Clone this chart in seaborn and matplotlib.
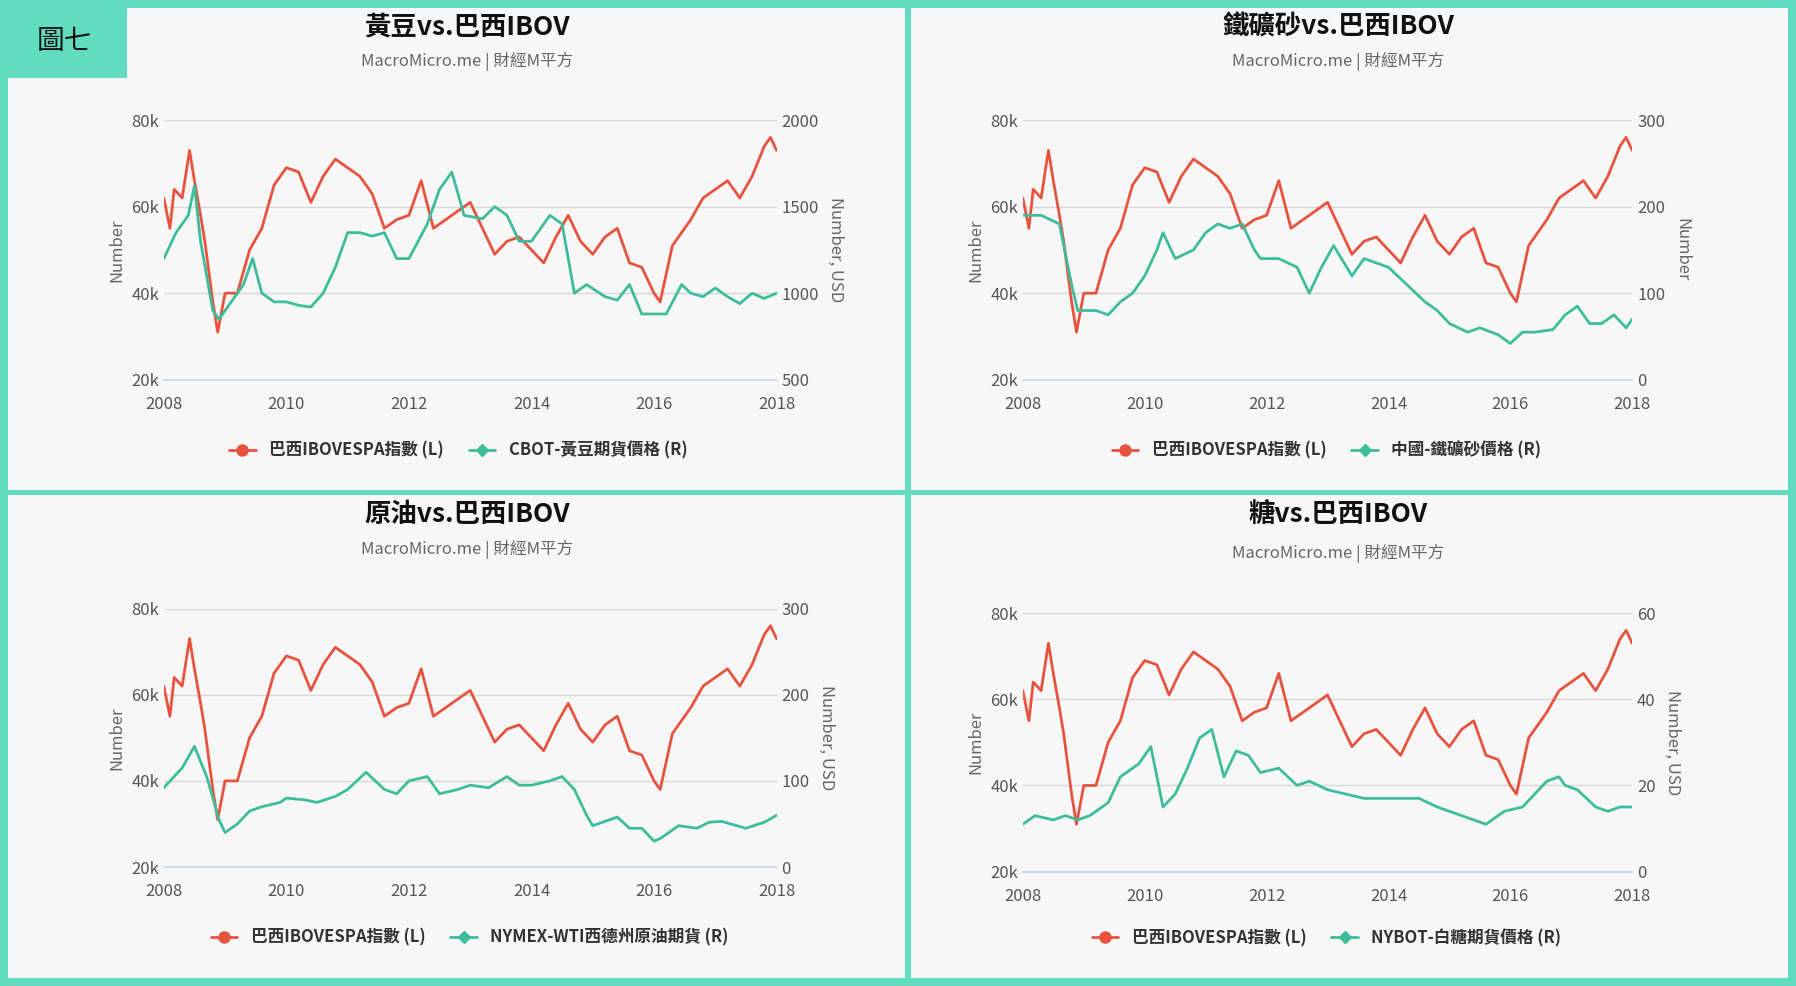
import matplotlib
matplotlib.use('Agg')
import matplotlib.pyplot as plt
import seaborn as sns
import pandas as pd
from matplotlib.lines import Line2D
from matplotlib.patches import Rectangle

sns.set_theme(style='white')
plt.rcParams['font.family'] = ['Noto Sans CJK TC', 'DejaVu Sans']

RED = '#e8533f'
TEAL = '#3dbd9b'
FRAME = '#62dcc0'

# Brazil IBOVESPA (shared by all panels), year fraction / value
ibov_t = [2008.0, 2008.1, 2008.17, 2008.3, 2008.42, 2008.5, 2008.6, 2008.67, 2008.8, 2008.88, 2009.0, 2009.2,
          2009.4, 2009.6, 2009.8, 2010.0, 2010.2, 2010.4, 2010.6, 2010.8, 2011.0, 2011.2, 2011.4, 2011.6,
          2011.8, 2012.0, 2012.2, 2012.4, 2012.6, 2012.8, 2013.0, 2013.2, 2013.4, 2013.6, 2013.8, 2014.0,
          2014.2, 2014.4, 2014.6, 2014.8, 2015.0, 2015.2, 2015.4, 2015.6, 2015.8, 2016.0, 2016.1, 2016.3,
          2016.6, 2016.8, 2017.0, 2017.2, 2017.4, 2017.6, 2017.8, 2017.9, 2018.0]
ibov_v = [62, 55, 64, 62, 73, 66, 58, 52, 38, 31, 40, 40,
          50, 55, 65, 69, 68, 61, 67, 71, 69, 67, 63, 55,
          57, 58, 66, 55, 57, 59, 61, 55, 49, 52, 53, 50,
          47, 53, 58, 52, 49, 53, 55, 47, 46, 40, 38, 51,
          57, 62, 64, 66, 62, 67, 74, 76, 73]
ibov_v = [v * 1000 for v in ibov_v]

soy_t = [2008.0, 2008.2, 2008.4, 2008.5, 2008.6, 2008.8, 2008.9, 2009.1, 2009.3, 2009.45, 2009.6, 2009.8,
         2010.0, 2010.2, 2010.4, 2010.6, 2010.8, 2011.0, 2011.2, 2011.4, 2011.6, 2011.8, 2012.0, 2012.3,
         2012.5, 2012.7, 2012.9, 2013.2, 2013.4, 2013.6, 2013.8, 2014.0, 2014.3, 2014.5, 2014.7, 2014.9,
         2015.2, 2015.4, 2015.6, 2015.8, 2016.0, 2016.2, 2016.45, 2016.6, 2016.8, 2017.0, 2017.2, 2017.4,
         2017.6, 2017.8, 2018.0]
soy_v = [1200, 1350, 1450, 1620, 1300, 900, 850, 950, 1050, 1200, 1000, 950,
         950, 930, 920, 1000, 1150, 1350, 1350, 1330, 1350, 1200, 1200, 1400,
         1600, 1700, 1450, 1430, 1500, 1450, 1300, 1300, 1450, 1400, 1000, 1050,
         980, 960, 1050, 880, 880, 880, 1050, 1000, 980, 1030, 980, 940,
         1000, 970, 1000]

iron_t = [2008.0, 2008.3, 2008.6, 2008.8, 2008.9, 2009.2, 2009.4, 2009.6, 2009.8, 2010.0, 2010.2, 2010.3,
          2010.5, 2010.8, 2011.0, 2011.2, 2011.4, 2011.6, 2011.8, 2011.9, 2012.2, 2012.5, 2012.7, 2012.9,
          2013.1, 2013.4, 2013.6, 2013.8, 2014.0, 2014.3, 2014.6, 2014.8, 2015.0, 2015.3, 2015.5, 2015.8,
          2016.0, 2016.2, 2016.4, 2016.7, 2016.9, 2017.1, 2017.3, 2017.5, 2017.7, 2017.9, 2018.0]
iron_v = [190, 190, 180, 110, 80, 80, 75, 90, 100, 120, 150, 170,
          140, 150, 170, 180, 175, 180, 150, 140, 140, 130, 100, 130,
          155, 120, 140, 135, 130, 110, 90, 80, 65, 55, 60, 52,
          42, 55, 55, 58, 75, 85, 65, 65, 75, 60, 70]

wti_t = [2008.0, 2008.3, 2008.5, 2008.7, 2008.9, 2009.0, 2009.2, 2009.4, 2009.6, 2009.9, 2010.0, 2010.3,
         2010.5, 2010.8, 2011.0, 2011.3, 2011.6, 2011.8, 2012.0, 2012.3, 2012.5, 2012.8, 2013.0, 2013.3,
         2013.6, 2013.8, 2014.0, 2014.3, 2014.5, 2014.7, 2014.9, 2015.0, 2015.4, 2015.6, 2015.8, 2016.0,
         2016.1, 2016.4, 2016.7, 2016.9, 2017.1, 2017.5, 2017.8, 2018.0]
wti_v = [92, 115, 140, 105, 55, 40, 50, 65, 70, 75, 80, 78,
         75, 82, 90, 110, 90, 85, 100, 105, 85, 90, 95, 92,
         105, 95, 95, 100, 105, 90, 60, 48, 58, 45, 45, 30,
         33, 48, 45, 52, 53, 45, 52, 60]

sugar_t = [2008.0, 2008.2, 2008.5, 2008.7, 2008.9, 2009.1, 2009.4, 2009.6, 2009.9, 2010.1, 2010.3, 2010.5,
           2010.7, 2010.9, 2011.1, 2011.3, 2011.5, 2011.7, 2011.9, 2012.2, 2012.5, 2012.7, 2013.0, 2013.3,
           2013.6, 2013.9, 2014.2, 2014.5, 2014.8, 2015.0, 2015.4, 2015.6, 2015.9, 2016.2, 2016.4, 2016.6,
           2016.8, 2016.9, 2017.1, 2017.4, 2017.6, 2017.8, 2018.0]
sugar_v = [11, 13, 12, 13, 12, 13, 16, 22, 25, 29, 15, 18,
           24, 31, 33, 22, 28, 27, 23, 24, 20, 21, 19, 18,
           17, 17, 17, 17, 15, 14, 12, 11, 14, 15, 18, 21,
           22, 20, 19, 15, 14, 15, 15]

panels = [
    ('黃豆vs.巴西IBOV', 'CBOT-黃豆期貨價格 (R)', soy_t, soy_v, (500, 2000), [500, 1000, 1500, 2000], 'Number, USD'),
    ('鐵礦砂vs.巴西IBOV', '中國-鐵礦砂價格 (R)', iron_t, iron_v, (0, 300), [0, 100, 200, 300], 'Number'),
    ('原油vs.巴西IBOV', 'NYMEX-WTI西德州原油期貨 (R)', wti_t, wti_v, (0, 300), [0, 100, 200, 300], 'Number, USD'),
    ('糖vs.巴西IBOV', 'NYBOT-白糖期貨價格 (R)', sugar_t, sugar_v, (0, 60), [0, 20, 40, 60], 'Number, USD'),
]

W, H = 1568, 862
fig = plt.figure(figsize=(17.96, 9.86), dpi=100)
fig.patch.set_facecolor(FRAME)

# panel boxes in reference pixels: (x0, y0, x1, y1)
boxes = [(7, 7, 790, 428), (795, 7, 1561, 428), (7, 433, 790, 855), (795, 433, 1561, 855)]
# plot areas (left, right, top, bottom) and title centre, legend centre, subtitle y
plots = [(143, 678, 105, 332, 408, 400, 54),
         (893, 1425, 105, 332, 1168, 1158, 54),
         (143, 678, 532, 758, 408, 410, 480),
         (893, 1425, 536, 762, 1168, 1158, 484)]

def fx(px):
    return px / W

def fy(py):
    return 1 - py / H

for (title, rlabel, t, v, rlim, rticks, rname), (x0, y0, x1, y1), (pl, pr, pt, pb, tc, lc, sy) in zip(panels, boxes, plots):
    fig.add_artist(Rectangle((fx(x0), fy(y1)), fx(x1 - x0), (y1 - y0) / H,
                             transform=fig.transFigure, facecolor='#f7f7f7', edgecolor='none', zorder=0))
    fig.text(fx(tc), fy(y0 + 17), title, ha='center', va='center', fontsize=19, fontweight='bold', color='#111111')
    fig.text(fx(tc), fy(sy), 'MacroMicro.me | 財經M平方', ha='center', va='center', fontsize=12, color='#666666')

    ax = fig.add_axes([fx(pl), fy(pb), fx(pr - pl), (pb - pt) / H])
    ax.set_facecolor('none')
    sns.lineplot(x=ibov_t, y=ibov_v, ax=ax, color=RED, lw=2)
    ax.set_xlim(2008.0, 2018.0)
    ax.set_ylim(20000, 80000)
    ax.set_yticks([20000, 40000, 60000, 80000])
    ax.set_yticklabels(['20k', '40k', '60k', '80k'])
    ax.set_xticks(range(2008, 2019, 2))
    ax.grid(axis='y', color='#d8d8d8', lw=1)
    ax.set_ylabel('Number', color='#666666', fontsize=12)
    for s in ['top', 'right', 'left']:
        ax.spines[s].set_visible(False)
    ax.spines['bottom'].set_color('#ccd6eb')
    ax.tick_params(axis='both', colors='#555555', labelsize=12, length=0)
    ax.tick_params(axis='x', length=8, color='#ccd6eb', direction='out')

    ax2 = ax.twinx()
    sns.lineplot(x=t, y=v, ax=ax2, color=TEAL, lw=2)
    ax2.set_ylim(*rlim)
    ax2.set_yticks(rticks)
    ax2.set_ylabel(rname, color='#666666', fontsize=12, rotation=270, labelpad=18)
    for s in ax2.spines.values():
        s.set_visible(False)
    ax2.tick_params(axis='y', colors='#555555', labelsize=12, length=0)

    handles = [Line2D([], [], color=RED, lw=2, marker='o', markersize=8),
               Line2D([], [], color=TEAL, lw=2, marker='D', markersize=6)]
    fig.legend(handles, ['巴西IBOVESPA指數 (L)', rlabel], loc='center',
               bbox_to_anchor=(fx(lc), fy(y0 + 387)), ncol=2, frameon=False,
               prop={'weight': 'bold', 'size': 12}, handlelength=1.6, columnspacing=1.5,
               labelcolor='#333333')

# figure label box
fig.add_artist(Rectangle((0, fy(68)), fx(111), 68 / H, transform=fig.transFigure,
                         facecolor=FRAME, edgecolor='none', zorder=5))
fig.text(fx(56), fy(36), '圖七', ha='center', va='center', fontsize=20, color='#111111', zorder=6)

fig.savefig('out.png', dpi=100, facecolor=FRAME)
